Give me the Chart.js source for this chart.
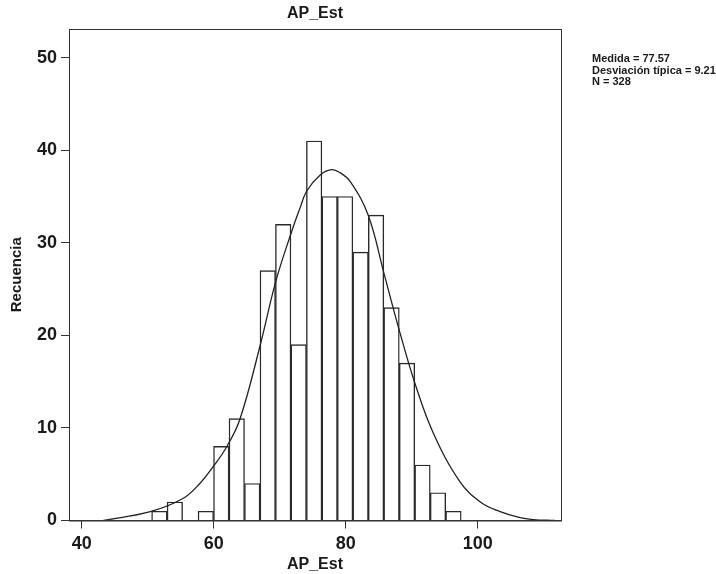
<!DOCTYPE html>
<html lang="es">
<head>
<meta charset="utf-8">
<title>AP_Est</title>
<script src="https://cdn.jsdelivr.net/npm/chart.js@4.4.1/dist/chart.umd.min.js"></script>
<style>
  html, body { margin: 0; padding: 0; background: #fff; }
  #contenedor { width: 716px; height: 574px; position: relative; }
</style>
</head>
<body>
<div id="contenedor"><canvas id="histograma"></canvas></div>
<script>
// Intervalos del histograma (inicio y ancho) y frecuencias de cada uno
const inicioIntervalos = 50.6;
const anchoIntervalo = 2.345;
const frecuencias = [1, 2, 0, 1, 8, 11, 4, 27, 32, 19, 41, 35, 35, 29, 33, 23, 17, 6, 3, 1];

// Curva normal, puntos
const curvaX = [43.3, 50.4, 55.4, 57.9, 59.9, 62.0, 64.0, 67.0, 69.4, 71.8, 73.1, 74.1, 76.1, 77.8, 79.1, 80.7, 83.4, 85.8, 88.1, 90.5, 93.3, 97.3, 100.4, 103.4, 106.4, 108.4, 111.7];
const curvaY = [0, 0.95, 2.4, 4.0, 5.8, 8.0, 11.0, 18.8, 25.8, 31.2, 33.8, 35.6, 37.3, 37.9, 37.6, 36.6, 33.0, 26.7, 20.6, 14.8, 9.4, 4.2, 2.0, 0.95, 0.3, 0.1, 0];

// Marcas de los ejes
const marcasX = [40, 60, 80, 100];
const marcasY = [0, 10, 20, 30, 40, 50];

// Textos
const titulo = 'AP_Est';
const tituloEjeX = 'AP_Est';
const tituloEjeY = 'Recuencia';
const estadisticos = ['Medida = 77.57', 'Desviación típica = 9.21', 'N = 328'];

const fuente = "'Liberation Sans', Arial, sans-serif";
const colorLinea = '#222';

Chart.defaults.font.family = fuente;
Chart.defaults.color = '#1a1a1a';

// Dibuja el marco completo, el titulo y el cuadro de estadisticos
const marcoYTextos = {
    id: 'marcoYTextos',
    afterDraw(chart) {
        const { ctx, chartArea } = chart;
        ctx.save();
        ctx.strokeStyle = '#333';
        ctx.lineWidth = 1;
        ctx.strokeRect(chartArea.left + 0.5, chartArea.top + 0.5,
            chartArea.right - chartArea.left, chartArea.bottom - chartArea.top);

        ctx.fillStyle = '#1a1a1a';
        ctx.textBaseline = 'middle';
        ctx.textAlign = 'center';
        ctx.font = 'bold 16px ' + fuente;
        ctx.fillText(titulo, (chartArea.left + chartArea.right) / 2, 14);

        ctx.textAlign = 'left';
        ctx.font = 'bold 11px ' + fuente;
        estadisticos.forEach((linea, i) => {
            ctx.fillText(linea, chartArea.right + 31, 59 + i * 11.5);
        });
        ctx.restore();
    }
};

const ctx = document.getElementById('histograma').getContext('2d');

new Chart(ctx, {
    type: 'bar',
    data: {
        datasets: [{
            type: 'line',
            data: curvaX.map((x, i) => ({ x: x, y: curvaY[i] })),
            borderColor: colorLinea,
            borderWidth: 1.3,
            pointRadius: 0,
            fill: false,
            tension: 0.4,
            order: 0
        }, {
            type: 'bar',
            data: frecuencias.map((f, i) => ({ x: inicioIntervalos + anchoIntervalo * (i + 0.5), y: f })),
            backgroundColor: 'rgba(255,255,255,0)',
            borderColor: '#2a2a2a',
            borderWidth: 0.75,
            borderSkipped: 'start',
            barPercentage: 1,
            categoryPercentage: 1,
            order: 1
        }]
    },
    options: {
        responsive: true,
        maintainAspectRatio: false,
        animation: false,
        layout: { padding: { top: 29, right: 155, left: 0, bottom: 0 } },
        plugins: {
            legend: { display: false },
            tooltip: { enabled: false },
            title: { display: false }
        },
        scales: {
            x: {
                type: 'linear',
                min: 38.08,
                max: 112.62,
                offset: false,
                afterBuildTicks: (eje) => { eje.ticks = marcasX.map(v => ({ value: v })); },
                afterFit: (eje) => { eje.height = 53.5; },
                grid: { offset: false, drawOnChartArea: false, drawTicks: true, tickLength: 8, color: '#333' },
                border: { display: true, color: '#333' },
                ticks: { font: { size: 18, weight: 'bold' }, padding: 5, maxRotation: 0 },
                title: { display: true, text: tituloEjeX, font: { size: 16, weight: 'bold' }, padding: { top: 0, bottom: 0 } }
            },
            y: {
                min: 0,
                max: 53.1,
                afterBuildTicks: (eje) => { eje.ticks = marcasY.map(v => ({ value: v })); },
                afterFit: (eje) => { eje.width = 69; },
                grid: { drawOnChartArea: false, drawTicks: true, tickLength: 8, color: '#333' },
                border: { display: true, color: '#333' },
                ticks: { font: { size: 18, weight: 'bold' }, padding: 4 },
                title: { display: true, text: tituloEjeY, font: { size: 15, weight: 'bold' }, padding: { top: 8, bottom: 0 } }
            }
        }
    },
    plugins: [marcoYTextos]
});
</script>
</body>
</html>
